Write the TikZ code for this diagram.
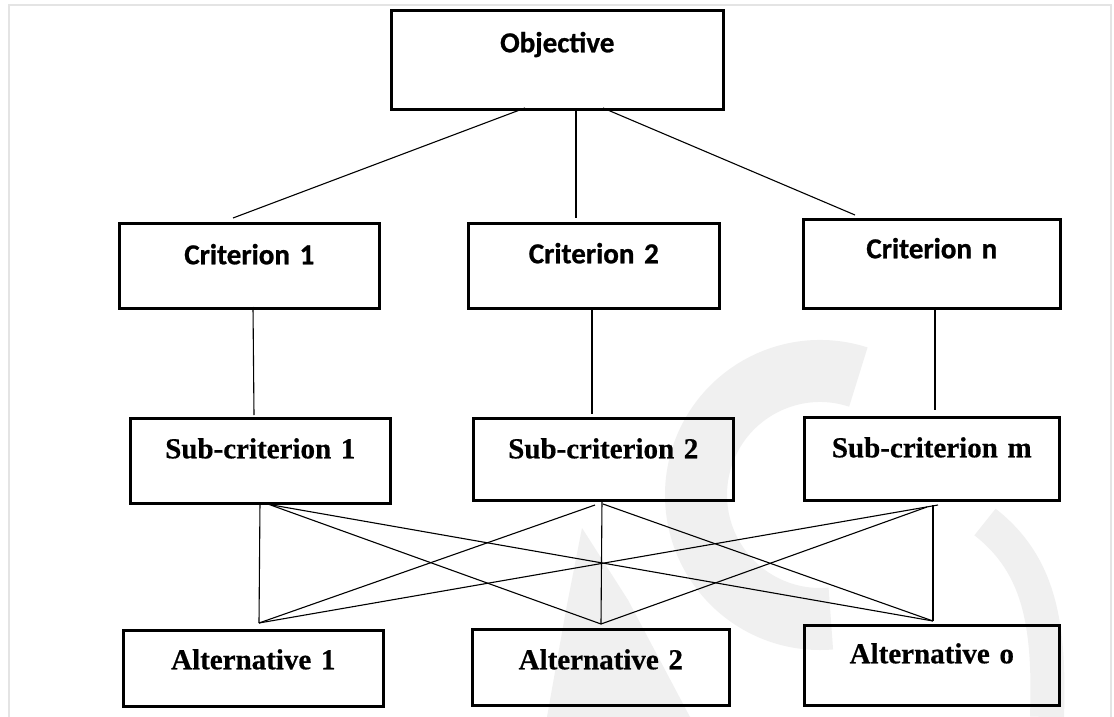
\documentclass[tikz,border=0pt]{standalone}
\usepackage{fontspec}
\newfontfamily\calfont[BoldFeatures={FakeBold=0.8}]{Carlito}
\newfontfamily\timfont[BoldFeatures={FakeBold=0.5}]{Liberation Serif}
\definecolor{framegray}{HTML}{E4E4E4}
\definecolor{wmgray}{HTML}{F0F0F0}
\begin{document}
\begin{tikzpicture}[x=1pt,y=-1pt,
  boxbase/.style={draw=black, line width=2.6pt, rectangle, inner sep=0pt, align=center, anchor=north west},
  topbox/.style={boxbase, font=\calfont\bfseries\fontsize{29}{34}\selectfont},
  lowbox/.style={boxbase, font=\timfont\bfseries\fontsize{29}{34}\selectfont},
  conn/.style={draw=black, line width=1.1pt},
  wm/.style={draw=wmgray, line cap=butt}]
\useasboundingbox (0,0) rectangle (1114,717);
\fill[white] (0,0) rectangle (1114,717);
% faint watermark
\draw[wm, line width=62pt] (820,495) ++(-72:124) arc[start angle=-72, end angle=-275, radius=124];
\draw[wm, line width=34pt] (985,522) .. controls (1040,565) and (1050,625) .. (1047,717);
\fill[wmgray] (582,528) -- (628,600) -- (690,717) -- (547,717) -- (566,610) -- cycle;
% frame
\draw[framegray, line width=2pt] (9,717) -- (9,5) -- (1111,5) -- (1111,717);
% boxes
\node[topbox, text width=332pt, text height=42pt, text depth=57pt] (obj) at (390,9) {Objective};
\node[topbox, text width=260pt, text height=41pt, text depth=44pt] (c1) at (118,222) {Criterion 1};
\node[topbox, text width=251pt, text height=40pt, text depth=45pt] (c2) at (467,222) {Criterion 2};
\node[topbox, text width=257pt, text height=39pt, text depth=50pt] (cn) at (802,218) {Criterion n};
\node[lowbox, text width=260pt, text height=40pt, text depth=45pt] (s1) at (129,417) {Sub-criterion 1};
\node[lowbox, text width=260pt, text height=40pt, text depth=42pt] (s2) at (472,417) {Sub-criterion 2};
\node[lowbox, text width=255pt, text height=40pt, text depth=43pt] (sm) at (803,416) {Sub-criterion m};
\node[lowbox, text width=260pt, text height=39pt, text depth=37pt] (a1) at (122,629) {Alternative 1};
\node[lowbox, text width=257pt, text height=40pt, text depth=36pt] (a2) at (471,628) {Alternative 2};
\node[lowbox, text width=255pt, text height=38pt, text depth=42pt] (ao) at (803,624) {Alternative o};
% connector end points
\coordinate (objL) at (525,108);
\coordinate (objM) at (576,108);
\coordinate (objR) at (603,108);
\coordinate (c1T) at (233,218);
\coordinate (c2T) at (576,218);
\coordinate (cnT) at (855,215);
\coordinate (c1B) at (253,307);
\coordinate (c2B) at (592,307);
\coordinate (cnB) at (935,307);
\coordinate (s1T) at (254,415);
\coordinate (s2T) at (592,414);
\coordinate (smT) at (935,410);
\coordinate (s1Ba) at (260,502);
\coordinate (s1Bb) at (265,503);
\coordinate (s1Bc) at (272,505);
\coordinate (s2Ba) at (595,505);
\coordinate (s2Bb) at (602,500);
\coordinate (s2Bc) at (603,504);
\coordinate (smBa) at (938,505);
\coordinate (smBb) at (933,505);
\coordinate (smBc) at (927,507);
\coordinate (a1T) at (259,623);
\coordinate (a2T) at (601,624);
\coordinate (aoT) at (933,621);
% connectors
\draw[conn] (objL) -- (c1T);
\draw[conn] (objM) -- (c2T);
\draw[conn] (objR) -- (cnT);
\draw[conn] (c1B) -- (s1T);
\draw[conn] (c2B) -- (s2T);
\draw[conn] (cnB) -- (smT);
\draw[conn] (s1Ba) -- (a1T);
\draw[conn] (s1Bb) -- (a2T);
\draw[conn] (s1Bc) -- (aoT);
\draw[conn] (s2Ba) -- (a1T);
\draw[conn] (s2Bb) -- (a2T);
\draw[conn] (s2Bc) -- (aoT);
\draw[conn] (smBa) -- (a1T);
\draw[conn] (smBb) -- (aoT);
\draw[conn] (smBc) -- (a2T);
\end{tikzpicture}
\end{document}
